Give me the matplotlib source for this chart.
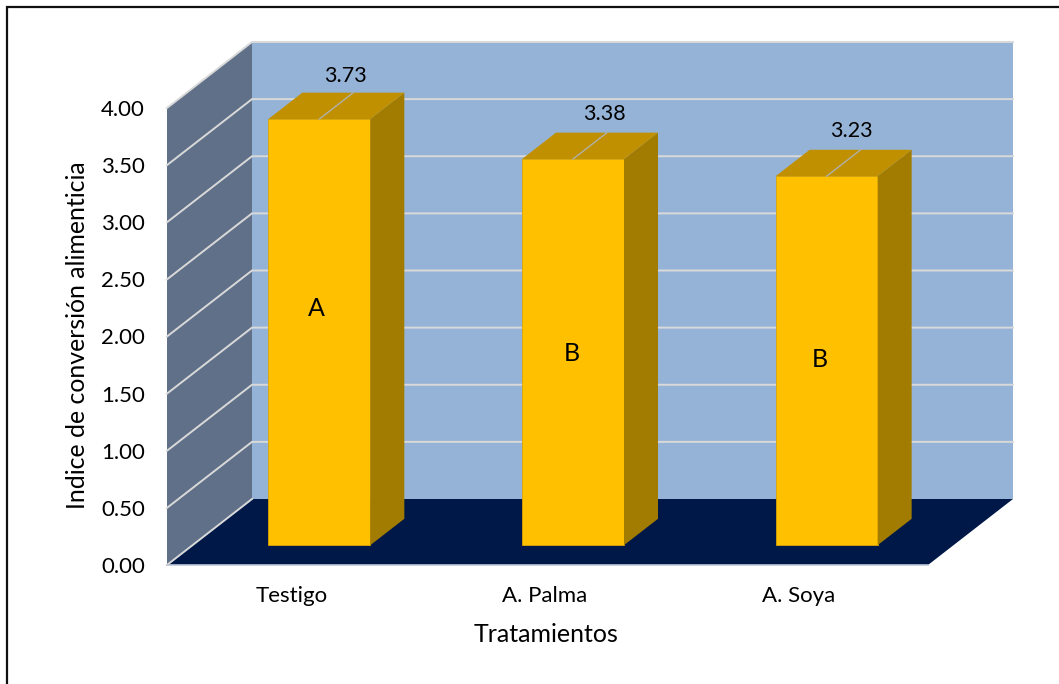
import matplotlib
matplotlib.use("Agg")
import matplotlib.pyplot as plt
from matplotlib.patches import Polygon
from matplotlib.lines import Line2D
from matplotlib.transforms import ScaledTranslation

# Data
categories = ["Testigo", "A. Palma", "A. Soya"]
values = [3.73, 3.38, 3.23]
value_labels = ["3.73", "3.38", "3.23"]
groups = ["A", "B", "B"]
y_ticks = [0.0, 0.5, 1.0, 1.5, 2.0, 2.5, 3.0, 3.5, 4.0]

# Layout / style
W, H = 1059, 684
plt.rcParams["font.family"] = ["Lato", "DejaVu Sans"]
L, R, T, B = 167, 928, 108, 565
DX = 85 / ((R - L) / 3)      # depth vector in category units
DY = 66 / ((B - T) / 4)      # depth vector in value units
BAR_W = 0.402
Z0, Z1 = 0.30, 0.70          # bar front and back as fraction of depth
GROUP_FRAC = [0.603, 0.547, 0.557]
GROUP_SHIFT = [-0.012, -0.004, -0.028]
LABEL_RAISE = [0.15, 0.16, 0.16]
LABEL_SHIFT = [-0.032, -0.012, -0.036]

WALL, SIDE, FLOOR = "#95B3D7", "#5F7088", "#001848"
BAR, TOP, DARK = "#FFC000", "#C09000", "#A27C00"
GRID = "#D9D9D9"

fig = plt.figure(figsize=(W / 100, H / 100), dpi=100)
ax = fig.add_axes([L / W, 1 - B / H, (R - L) / W, (B - T) / H])
ax.set_xlim(-0.5, 2.5)
ax.set_ylim(0, 4)
ax.patch.set_visible(False)
for s in ax.spines.values():
    s.set_visible(False)
ax.tick_params(length=0)
x0, x1 = -0.5, 2.5
top = y_ticks[-1]


def poly(pts, color, z, ec=None, lw=0.0):
    ax.add_patch(Polygon(pts, closed=True, facecolor=color, edgecolor=ec or color,
                         lw=lw, zorder=z, clip_on=False))


# walls and floor
poly([(x0 + DX, DY), (x1 + DX, DY), (x1 + DX, top + DY), (x0 + DX, top + DY)], WALL, 1)
poly([(x0, 0), (x0 + DX, DY), (x0 + DX, top + DY), (x0, top)], SIDE, 1)
poly([(x0, 0), (x1, 0), (x1 + DX, DY), (x0 + DX, DY)], FLOOR, 2)

# gridlines
for t in y_ticks:
    ax.plot([x0, x0 + DX, x1 + DX] if t > 0 else [x0, x0 + DX],
            [t, t + DY, t + DY] if t > 0 else [0, DY],
            color=GRID, lw=1.4, zorder=3, clip_on=False, solid_joinstyle="miter")
ax.plot([x0, x1], [0, 0], color="#BFC8D8", lw=1.2, zorder=3, clip_on=False)

# bars
for i, v in enumerate(values):
    a = i - BAR_W / 2 + Z0 * DX
    b = i + BAR_W / 2 + Z0 * DX
    y0 = Z0 * DY
    dx = (Z1 - Z0) * DX
    dy = (Z1 - Z0) * DY
    ft = y0 + v
    poly([(a, y0), (b, y0), (b, ft), (a, ft)], BAR, 5 + i, ec="#D9A500", lw=0.6)
    poly([(b, y0), (b + dx, y0 + dy), (b + dx, ft + dy), (b, ft)], DARK, 5 + i)
    poly([(a, ft), (b, ft), (b + dx, ft + dy), (a + dx, ft + dy)], TOP, 5 + i)
    cx = (a + b) / 2
    ax.plot([cx, cx + dx], [ft, ft + dy], color="#B0B0A8", lw=1.0, zorder=6 + i, clip_on=False)
    ax.text(cx + dx + LABEL_SHIFT[i], ft + dy + LABEL_RAISE[i], value_labels[i],
            ha="center", va="center", fontsize=15.5, color="black", zorder=10, clip_on=False)
    ax.text(cx + GROUP_SHIFT[i], v * GROUP_FRAC[i], groups[i], ha="center", va="center",
            fontsize=18, color="black", zorder=10, clip_on=False)

# axes text
ax.set_yticks(y_ticks)
ax.set_yticklabels([f"{t:.2f}" for t in y_ticks], fontsize=16, color="black")
ax.tick_params(axis="y", pad=16)
ax.set_xticks(range(len(categories)))
ax.set_xticklabels(categories, fontsize=16, color="black")
ax.tick_params(axis="x", pad=15)
shift = ScaledTranslation(-2.5 / 100, 0, fig.dpi_scale_trans)
for lab in ax.get_xticklabels():
    lab.set_transform(lab.get_transform() + shift)
fig.text(546 / W, 1 - 634 / H, "Tratamientos", ha="center", va="center", fontsize=18)
fig.text(78 / W, 1 - 335 / H, "Indice de conversión alimenticia", rotation=90,
         ha="center", va="center", fontsize=17.9)

# outer frame (top and left only)
fig.add_artist(Line2D([7 / W, 7 / W, 1], [0, 1 - 7 / H, 1 - 7 / H], color="#111111", lw=1.6,
                      transform=fig.transFigure, solid_joinstyle="miter"))

fig.savefig("out.png", dpi=100, facecolor="white")
